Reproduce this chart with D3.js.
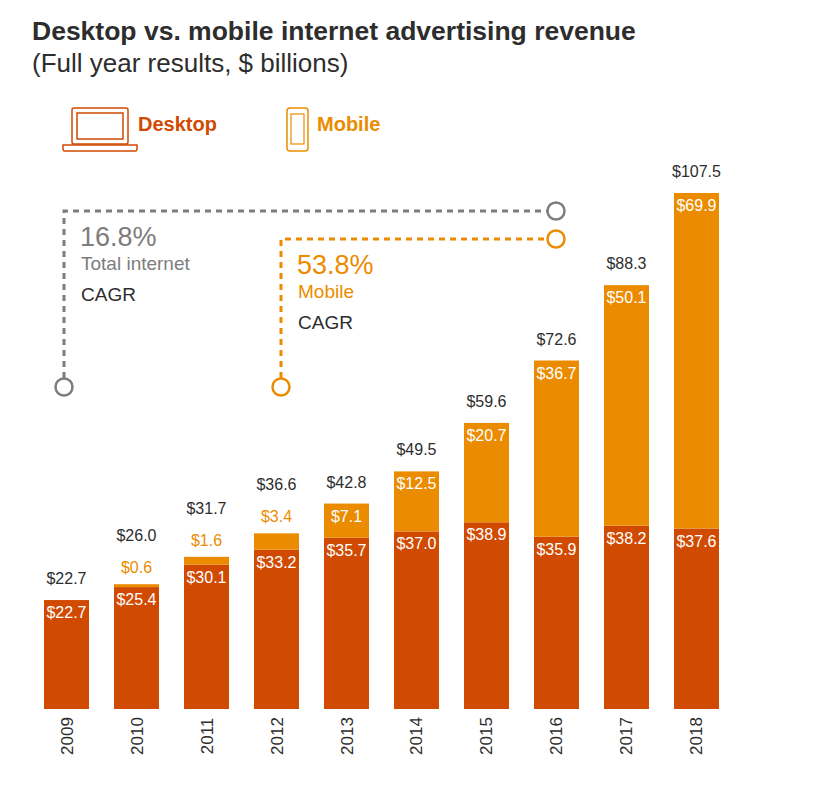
<!DOCTYPE html>
<html><head><meta charset="utf-8">
<script src="https://cdn.jsdelivr.net/npm/d3@7"></script>
<style>body{margin:0;background:#fff;font-family:Arial,"Liberation Sans",sans-serif}</style>
</head><body><svg id="c" width="821" height="790"></svg>
<script>
const years=["2009","2010","2011","2012","2013","2014","2015","2016","2017","2018"];
const desktop=[22.7,25.4,30.1,33.2,35.7,37.0,38.9,35.9,38.2,37.6];
const mobile=[0,0.6,1.6,3.4,7.1,12.5,20.7,36.7,50.1,69.9];
const totals=[22.7,26.0,31.7,36.6,42.8,49.5,59.6,72.6,88.3,107.5];
const cD="#d04a02",cM="#eb8c00",cG="#7d7d7d";
const svg=d3.select("#c");
const x=d3.scaleBand().domain(years).range([44,719]).paddingInner(0.357).paddingOuter(0);
const y=d3.scaleLinear().domain([0,107.5]).range([709,193]);
svg.append("text").attr("x",32).attr("y",40).attr("font-size",26.5).attr("font-weight","bold").attr("fill","#2d2d2d").text("Desktop vs. mobile internet advertising revenue");
svg.append("text").attr("x",32).attr("y",72).attr("font-size",26).attr("fill","#2d2d2d").text("(Full year results, $ billions)");
const lg=svg.append("g");
lg.append("rect").attr("x",72).attr("y",108).attr("width",56).attr("height",36).attr("rx",2).attr("fill","none").attr("stroke",cD).attr("stroke-width",1.5);
lg.append("rect").attr("x",77).attr("y",113).attr("width",46).attr("height",26).attr("fill","none").attr("stroke",cD).attr("stroke-width",1.5);
lg.append("path").attr("d","M63,145 H137 V149 Q137,151 135,151 H65 Q63,151 63,149 Z").attr("fill","none").attr("stroke",cD).attr("stroke-width",1.5);
lg.append("text").attr("x",138).attr("y",131).attr("font-size",20).attr("font-weight","bold").attr("fill",cD).text("Desktop");
lg.append("rect").attr("x",287).attr("y",108).attr("width",21).attr("height",43).attr("rx",3).attr("fill","none").attr("stroke",cM).attr("stroke-width",1.5);
lg.append("rect").attr("x",291).attr("y",114).attr("width",13).attr("height",30).attr("fill","none").attr("stroke",cM).attr("stroke-width",1.2);
lg.append("text").attr("x",317).attr("y",131).attr("font-size",20).attr("font-weight","bold").attr("fill",cM).text("Mobile");
function bracket(x0,yTop,x1,col){
 svg.append("path").attr("d",`M${x0},378 V${yTop} H${x1-9}`).attr("fill","none").attr("stroke",col).attr("stroke-width",3).attr("stroke-dasharray","6,5");
 svg.append("circle").attr("cx",x0).attr("cy",387).attr("r",8.5).attr("fill","#fff").attr("stroke",col).attr("stroke-width",2.5);
 svg.append("circle").attr("cx",x1).attr("cy",yTop).attr("r",8.5).attr("fill","#fff").attr("stroke",col).attr("stroke-width",2.5);
}
bracket(64,211,556,cG);bracket(281,239,556,cM);
svg.append("text").attr("x",80).attr("y",246).attr("font-size",27).attr("fill",cG).text("16.8%");
svg.append("text").attr("x",81).attr("y",270).attr("font-size",19).attr("fill",cG).text("Total internet");
svg.append("text").attr("x",81).attr("y",301).attr("font-size",19).attr("fill","#2d2d2d").text("CAGR");
svg.append("text").attr("x",297).attr("y",274).attr("font-size",27).attr("fill",cM).text("53.8%");
svg.append("text").attr("x",298).attr("y",298).attr("font-size",19).attr("fill",cM).text("Mobile");
svg.append("text").attr("x",298).attr("y",329).attr("font-size",19).attr("fill","#2d2d2d").text("CAGR");
const g=svg.append("g");
const fs=16;
years.forEach((yr,i)=>{
 const bx=x(yr),bw=x.bandwidth(),cx=bx+bw/2;
 g.append("rect").attr("x",bx).attr("width",bw).attr("y",y(desktop[i])).attr("height",y(0)-y(desktop[i])).attr("fill",cD);
 if(mobile[i]>0) g.append("rect").attr("x",bx).attr("width",bw).attr("y",y(desktop[i]+mobile[i])).attr("height",y(desktop[i])-y(desktop[i]+mobile[i])).attr("fill",cM);
 g.append("text").attr("x",cx).attr("y",y(desktop[i])+18).attr("text-anchor","middle").attr("font-size",fs).attr("fill","#fff").text("$"+desktop[i].toFixed(1));
 const top=y(desktop[i]+mobile[i]);
 if(mobile[i]>=5){
  g.append("text").attr("x",cx).attr("y",top+18).attr("text-anchor","middle").attr("font-size",fs).attr("fill","#fff").text("$"+mobile[i].toFixed(1));
  g.append("text").attr("x",cx).attr("y",top-16).attr("text-anchor","middle").attr("font-size",fs).attr("fill","#2d2d2d").text("$"+totals[i].toFixed(1));
 } else if(mobile[i]>0){
  g.append("text").attr("x",cx).attr("y",top-11).attr("text-anchor","middle").attr("font-size",fs).attr("fill",cM).text("$"+mobile[i].toFixed(1));
  g.append("text").attr("x",cx).attr("y",top-43).attr("text-anchor","middle").attr("font-size",fs).attr("fill","#2d2d2d").text("$"+totals[i].toFixed(1));
 } else {
  g.append("text").attr("x",cx).attr("y",top-16).attr("text-anchor","middle").attr("font-size",fs).attr("fill","#2d2d2d").text("$"+totals[i].toFixed(1));
 }
 g.append("text").attr("transform",`translate(${cx+6},736) rotate(-90)`).attr("text-anchor","middle").attr("font-size",17).attr("fill","#2d2d2d").text(yr);
});
</script></body></html>
